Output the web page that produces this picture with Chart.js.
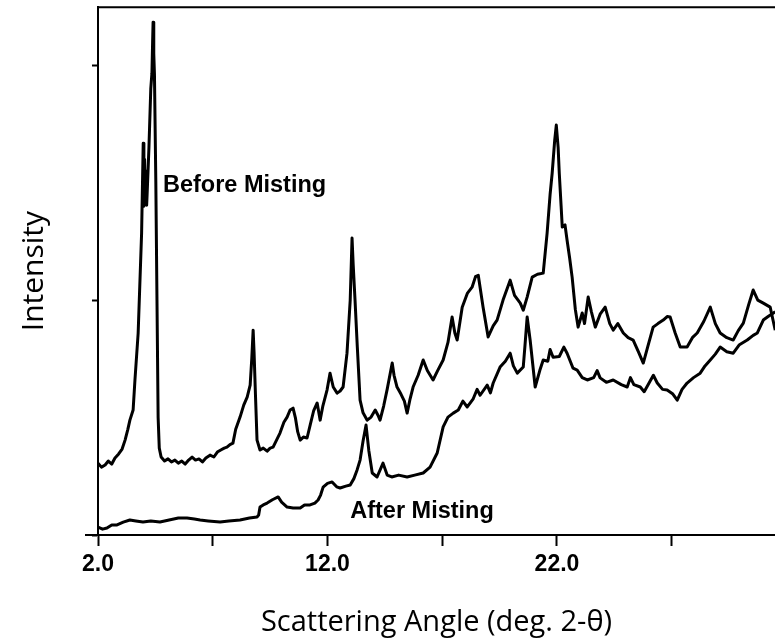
<!DOCTYPE html>
<html>
<head>
<meta charset="utf-8">
<script src="https://cdn.jsdelivr.net/npm/chart.js@4/dist/chart.umd.min.js"></script>
<style>
  html, body { margin: 0; padding: 0; background: #ffffff; }
  #wrap { width: 775px; height: 644px; position: relative; }
</style>
</head>
<body>
<div id="wrap"><canvas id="c" width="775" height="644"></canvas></div>
<script>
// Scattering angle (deg. 2-theta) tick positions and which ones carry a label
const tickAngles = [2, 7, 12, 17, 22, 27];
const labeledAngles = [2, 12, 22];
// Intensity tick marks (arbitrary units, unlabelled)
const intensityTicks = [0, 100, 200];
const seriesNames = ['Before Misting', 'After Misting'];

// Pattern recorded before misting
const beforeAngle = [
  2.00, 2.15, 2.31, 2.45, 2.60, 2.74, 2.90, 3.05, 3.18, 3.30, 3.39, 3.53, 3.61, 3.75, 3.90, 3.97,
  4.00, 4.03, 4.06, 4.09, 4.12, 4.14, 4.22, 4.30, 4.35, 4.38, 4.40, 4.43, 4.46, 4.52, 4.57, 4.62,
  4.67, 4.75, 4.90, 5.05, 5.20, 5.35, 5.50, 5.65, 5.80, 5.95, 6.10, 6.25, 6.40, 6.55, 6.70, 6.88,
  7.05, 7.20, 7.35, 7.50, 7.62, 7.75, 7.88, 8.00, 8.19, 8.35, 8.50, 8.63, 8.70, 8.76, 8.80, 8.86,
  8.93, 9.06, 9.20, 9.37, 9.50, 9.63, 9.78, 9.93, 10.10, 10.24, 10.37, 10.50, 10.60, 10.70, 10.81, 10.95,
  11.11, 11.25, 11.40, 11.55, 11.68, 11.80, 11.98, 12.11, 12.25, 12.42, 12.55, 12.68, 12.85, 12.99, 13.07, 13.12,
  13.20, 13.30, 13.42, 13.55, 13.73, 13.90, 14.08, 14.20, 14.29, 14.45, 14.60, 14.82, 14.90, 15.03, 15.20, 15.35,
  15.47, 15.60, 15.73, 15.95, 16.17, 16.35, 16.60, 16.80, 17.04, 17.25, 17.43, 17.55, 17.65, 17.87, 18.10, 18.30,
  18.45, 18.57, 18.78, 19.00, 19.22, 19.39, 19.65, 19.96, 20.15, 20.40, 20.53, 20.70, 20.92, 21.15, 21.40, 21.57,
  21.70, 21.79, 21.90, 21.97, 22.05, 22.10, 22.18, 22.23, 22.35, 22.44, 22.55, 22.66, 22.80, 22.92, 23.10, 23.20,
  23.36, 23.50, 23.67, 23.88, 24.10, 24.30, 24.45, 24.65, 24.89, 25.10, 25.32, 25.55, 25.76, 25.95, 26.19, 26.40,
  26.63, 26.80, 26.93, 27.15, 27.37, 27.67, 27.90, 28.11, 28.40, 28.68, 28.90, 29.11, 29.40, 29.68, 29.90, 30.12,
  30.35, 30.55, 30.75, 30.99, 31.29, 31.51
];
const beforeIntensity = [
  30.6, 28.9, 29.8, 31.5, 30.2, 32.8, 34.5, 36.6, 40.4, 45.0, 48.9, 53.2, 66.0, 86.0, 128.5, 166.8,
  140.0, 160.0, 142.0, 155.0, 140.4, 145.0, 165.0, 190.0, 196.6, 210.0, 218.3, 205.0, 196.0, 150.0, 100.0, 50.0,
  37.0, 33.2, 31.5, 32.4, 31.1, 31.9, 30.6, 31.5, 30.2, 31.9, 33.2, 31.9, 32.4, 31.1, 32.8, 34.0,
  33.2, 35.3, 36.2, 37.0, 37.4, 38.5, 39.1, 45.0, 50.2, 55.3, 58.7, 63.8, 75.0, 87.2, 78.0, 60.0,
  40.4, 36.2, 37.0, 35.7, 37.0, 37.4, 40.4, 43.4, 48.0, 50.2, 53.2, 54.0, 50.0, 44.0, 40.4, 41.7,
  41.3, 47.0, 53.0, 56.2, 48.9, 55.0, 61.7, 68.9, 63.0, 60.4, 61.3, 63.0, 77.4, 100.0, 126.4, 115.0,
  100.0, 80.0, 57.4, 52.0, 48.9, 50.2, 53.2, 51.0, 48.9, 55.0, 62.0, 73.2, 68.0, 63.0, 60.0, 57.0,
  51.9, 58.0, 63.0, 68.0, 74.5, 70.0, 66.0, 70.0, 74.5, 82.0, 92.8, 86.0, 83.0, 97.0, 103.0, 105.5,
  110.0, 110.6, 97.0, 84.3, 89.0, 91.5, 100.0, 108.5, 102.0, 98.7, 95.7, 101.3, 109.8, 111.0, 111.5, 128.5,
  145.0, 154.0, 168.0, 174.5, 165.0, 154.0, 140.0, 131.1, 132.0, 125.5, 118.0, 109.8, 96.0, 88.5, 94.5, 90.0,
  101.3, 95.0, 88.5, 94.0, 97.0, 90.0, 87.2, 90.0, 86.0, 84.0, 83.0, 78.0, 73.2, 80.0, 88.5, 90.0,
  91.5, 93.0, 92.8, 86.0, 80.0, 80.0, 84.0, 86.0, 91.0, 97.0, 90.0, 86.0, 84.0, 83.0, 87.0, 90.2,
  98.0, 104.3, 100.0, 98.7, 97.0, 87.2
];

// Pattern recorded after misting
const afterAngle = [
  2.00, 2.20, 2.39, 2.60, 2.83, 3.10, 3.39, 3.65, 3.96, 4.30, 4.70, 5.10, 5.50, 5.88, 6.20, 6.45,
  6.80, 7.32, 7.70, 8.19, 8.60, 8.93, 9.00, 9.06, 9.20, 9.37, 9.60, 9.85, 10.00, 10.24, 10.50, 10.81,
  11.00, 11.24, 11.45, 11.59, 11.70, 11.81, 12.00, 12.20, 12.40, 12.55, 12.80, 12.99, 13.15, 13.29, 13.42, 13.55,
  13.68, 13.80, 13.95, 14.16, 14.42, 14.60, 14.80, 15.10, 15.47, 15.80, 16.17, 16.47, 16.78, 17.04, 17.25, 17.48,
  17.70, 17.90, 18.09, 18.35, 18.52, 18.65, 18.96, 19.10, 19.22, 19.52, 19.75, 19.96, 20.10, 20.27, 20.53, 20.60,
  20.70, 20.83, 21.05, 21.25, 21.40, 21.60, 21.70, 21.83, 22.10, 22.30, 22.44, 22.70, 22.88, 23.10, 23.32, 23.60,
  23.75, 23.88, 24.15, 24.45, 24.80, 25.06, 25.20, 25.35, 25.63, 25.80, 26.00, 26.20, 26.37, 26.60, 26.80, 27.05,
  27.24, 27.45, 27.67, 27.95, 28.24, 28.45, 28.68, 28.90, 29.11, 29.40, 29.68, 29.95, 30.29, 30.55, 30.73, 30.99,
  31.20, 31.51
];
const afterIntensity = [
  3.4, 2.5, 3.0, 4.3, 4.3, 5.5, 6.4, 6.0, 5.5, 6.0, 5.5, 6.4, 7.2, 7.2, 6.8, 6.4,
  6.0, 5.5, 6.0, 6.4, 7.2, 7.7, 8.5, 11.9, 12.8, 13.6, 15.0, 16.2, 14.0, 11.9, 11.5, 11.5,
  12.8, 12.8, 13.6, 14.9, 17.0, 20.4, 22.0, 22.6, 20.5, 20.0, 20.8, 21.3, 24.0, 27.7, 31.9, 40.0,
  46.8, 36.0, 26.4, 24.7, 30.6, 25.5, 24.7, 25.5, 24.7, 25.5, 26.4, 28.9, 34.9, 46.0, 50.2, 51.9,
  53.2, 57.0, 54.5, 58.0, 62.0, 59.5, 63.8, 60.5, 64.7, 71.5, 74.0, 77.4, 72.0, 68.9, 71.5, 80.0,
  92.8, 83.0, 63.0, 70.0, 74.5, 74.0, 79.0, 75.7, 76.0, 80.0, 77.4, 71.0, 70.2, 67.0, 66.0, 67.0,
  70.0, 66.9, 65.0, 66.0, 64.0, 63.0, 67.0, 64.0, 63.0, 61.0, 64.5, 68.0, 64.7, 62.0, 61.7, 60.0,
  57.4, 62.0, 64.7, 67.0, 68.9, 72.0, 74.5, 77.0, 80.0, 78.0, 77.4, 81.0, 83.0, 85.0, 86.0, 91.5,
  93.0, 95.0
];

const toPoints = (xs, ys) => xs.map((x, i) => ({ x: x, y: ys[i] }));

const labelFont = 'bold 23.5px "Liberation Sans", Arial, Helvetica, sans-serif';

// Frame top edge, short axis stub left of the origin, and in-plot series labels
const framePlugin = {
  id: 'frame',
  afterDraw(chart, args, opts) {
    const { ctx, chartArea: a, scales } = chart;
    ctx.save();
    ctx.strokeStyle = '#000';
    ctx.lineWidth = 2;
    ctx.beginPath();
    ctx.moveTo(a.left, a.top);
    ctx.lineTo(a.right, a.top);
    ctx.moveTo(a.left - 13, a.bottom);
    ctx.lineTo(a.left, a.bottom);
    ctx.stroke();
    ctx.fillStyle = '#000';
    ctx.font = labelFont;
    ctx.textAlign = 'left';
    ctx.textBaseline = 'alphabetic';
    opts.labels.forEach(l => {
      ctx.fillText(l.text, scales.x.getPixelForValue(l.x), scales.y.getPixelForValue(l.y));
    });
    ctx.restore();
  }
};

new Chart(document.getElementById('c'), {
  type: 'line',
  data: {
    datasets: [
      {
        label: seriesNames[0],
        data: toPoints(beforeAngle, beforeIntensity),
        borderColor: '#000',
        borderWidth: 3,
        borderJoinStyle: 'round',
        pointRadius: 0,
        tension: 0,
        fill: false
      },
      {
        label: seriesNames[1],
        data: toPoints(afterAngle, afterIntensity),
        borderColor: '#000',
        borderWidth: 3,
        borderJoinStyle: 'round',
        pointRadius: 0,
        tension: 0,
        fill: false
      }
    ]
  },
  options: {
    responsive: false,
    animation: false,
    devicePixelRatio: 1,
    layout: { padding: { top: 7, right: 0, left: 0, bottom: 0 } },
    plugins: {
      legend: { display: false },
      tooltip: { enabled: false },
      frame: {
        labels: [
          { text: seriesNames[0], x: 4.83, y: 146 },
          { text: seriesNames[1], x: 12.99, y: 7.2 }
        ]
      }
    },
    scales: {
      x: {
        type: 'linear',
        min: 2,
        max: 31.5,
        afterBuildTicks: s => { s.ticks = tickAngles.map(v => ({ value: v })); },
        afterFit: s => { s.height = 109; },
        ticks: {
          autoSkip: false,
          maxRotation: 0,
          padding: 5,
          color: '#000',
          font: { family: '"Liberation Sans", Arial, sans-serif', size: 23, weight: 'bold' },
          callback: v => labeledAngles.includes(v) ? v.toFixed(1) : ''
        },
        grid: {
          display: true,
          drawOnChartArea: false,
          drawTicks: true,
          tickLength: 11,
          tickWidth: 2,
          tickColor: '#000',
          color: '#000'
        },
        border: { display: true, color: '#000', width: 2 },
        title: {
          display: true,
          text: 'Scattering Angle (deg. 2-θ)',
          color: '#000',
          font: { family: '"Open Sans", "Noto Sans", sans-serif', size: 29, lineHeight: 1 },
          padding: { top: 0, bottom: 7 }
        }
      },
      y: {
        type: 'linear',
        min: 0,
        max: 224.7,
        afterBuildTicks: s => { s.ticks = intensityTicks.map(v => ({ value: v })); },
        afterFit: s => { s.width = 98; },
        ticks: {
          color: '#000',
          padding: 0,
          callback: () => ''
        },
        grid: {
          display: true,
          drawOnChartArea: false,
          drawTicks: true,
          tickLength: 6,
          tickWidth: 2,
          tickColor: '#000',
          color: '#000'
        },
        border: { display: true, color: '#000', width: 2 },
        title: {
          display: true,
          text: 'Intensity',
          color: '#000',
          font: { family: '"Open Sans", "Noto Sans", sans-serif', size: 30, lineHeight: 1 },
          padding: { top: 19, bottom: 0 }
        }
      }
    }
  },
  plugins: [framePlugin]
});
</script>
</body>
</html>
